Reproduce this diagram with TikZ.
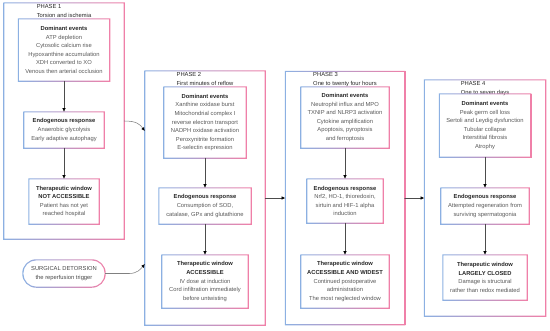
\documentclass[tikz,border=0pt]{standalone}
\usepackage{fontspec}
\setmainfont{Liberation Sans}
\usepackage{xcolor}
\usepackage{tikz}
\usetikzlibrary{arrows.meta,positioning}

\definecolor{pblu}{RGB}{140,176,226}
\definecolor{prosa}{RGB}{240,128,168}
\definecolor{testo}{RGB}{88,88,88}
\definecolor{scuro}{RGB}{38,38,38}

% cornice sfumata attorno a un nodo
\newcommand{\cornice}[1]{%
  \shade[left color=pblu, right color=prosa, even odd rule]
    ([shift={(-.55pt,.55pt)}]#1.north west) rectangle ([shift={(.55pt,-.55pt)}]#1.south east)
    ([shift={(.55pt,-.55pt)}]#1.north west) rectangle ([shift={(-.55pt,.55pt)}]#1.south east);}
\newcommand{\tit}[1]{\textbf{\color{scuro}#1}}

\tikzset{
  scatola/.style={inner sep=0pt, align=center, text=testo, font=\fontsize{5.8}{8.6}\selectfont},
  fase/.style={inner sep=0pt},
  etichetta/.style={inner sep=0pt, align=left, text=scuro, font=\fontsize{5.8}{9}\selectfont},
  freccia/.style={-{Latex[length=3.6pt,width=3.4pt,color=black]}, draw=black!70, line width=.55pt},
  curva/.style={freccia, draw=black!50},
}

\begin{document}
\begin{tikzpicture}[x=1pt, y=-1pt, line cap=round, line join=round]
\useasboundingbox (0,0) rectangle (550,330);

% Fase 1
\node[fase, minimum width=120pt, minimum height=236pt] (fase1) at (64,121) {};
\node[etichetta, below=1.2pt of fase1.north] (lab1) {PHASE 1\\Torsion and ischemia};
\node[scatola, minimum width=91pt, minimum height=62pt] (dom1) at (64,50)
  {\tit{Dominant events}\\ATP depletion\\Cytosolic calcium rise\\Hypoxanthine accumulation\\XDH converted to XO\\Venous then arterial occlusion};
\node[scatola, minimum width=80pt, minimum height=36pt] (endo1) at (64,130)
  {\tit{Endogenous response}\\Anaerobic glycolysis\\Early adaptive autophagy};
\node[scatola, minimum width=70pt, minimum height=45pt] (ter1) at (64,201.5)
  {\tit{Therapeutic window}\\\tit{NOT ACCESSIBLE}\\Patient has not yet\\reached hospital};

% Detorsione
\node[scatola, text=scuro!85, minimum width=82pt, minimum height=27pt] (chir) at (64,273.5)
  {SURGICAL DETORSION\\the reperfusion trigger};

% Fase 2
\node[fase, minimum width=120pt, minimum height=254pt] (fase2) at (205,198) {};
\node[etichetta, below=1.2pt of fase2.north] (lab2) {PHASE 2\\First minutes of reflow};
\node[scatola, minimum width=82pt, minimum height=71pt] (dom2) at (205,122.5)
  {\tit{Dominant events}\\Xanthine oxidase burst\\Mitochondrial complex I\\reverse electron transport\\NADPH oxidase activation\\Peroxynitrite formation\\E-selectin expression};
\node[scatola, minimum width=92pt, minimum height=36pt] (endo2) at (205,206)
  {\tit{Endogenous response}\\Consumption of SOD,\\catalase, GPx and glutathione};
\node[scatola, minimum width=86pt, minimum height=53pt] (ter2) at (205,281.5)
  {\tit{Therapeutic window}\\\tit{ACCESSIBLE}\\IV dose at induction\\Cord infiltration immediately\\before untwisting};

% Fase 3
\node[fase, minimum width=119pt, minimum height=253pt] (fase3) at (345,198) {};
\node[etichetta, below=1.2pt of fase3.north] (lab3) {PHASE 3\\One to twenty four hours};
\node[scatola, minimum width=88pt, minimum height=61pt] (dom3) at (345,117.5)
  {\tit{Dominant events}\\Neutrophil influx and MPO\\TXNIP and NLRP3 activation\\Cytokine amplification\\Apoptosis, pyroptosis\\and ferroptosis};
\node[scatola, minimum width=76pt, minimum height=44pt] (endo3) at (345,201)
  {\tit{Endogenous response}\\Nrf2, HO-1, thioredoxin,\\sirtuin and HIF-1 alpha\\induction};
\node[scatola, minimum width=88pt, minimum height=53pt] (ter3) at (345,281.5)
  {\tit{Therapeutic window}\\\tit{ACCESSIBLE AND WIDEST}\\Continued postoperative\\administration\\The most neglected window};

% Fase 4
\node[fase, minimum width=121pt, minimum height=236pt] (fase4) at (485,198) {};
\node[etichetta, below=1.2pt of fase4.north] (lab4) {PHASE 4\\One to seven days};
\node[scatola, minimum width=91pt, minimum height=63pt] (dom4) at (485,125.5)
  {\tit{Dominant events}\\Peak germ cell loss\\Sertoli and Leydig dysfunction\\Tubular collapse\\Interstitial fibrosis\\Atrophy};
\node[scatola, minimum width=88pt, minimum height=36pt] (endo4) at (485,206)
  {\tit{Endogenous response}\\Attempted regeneration from\\surviving spermatogonia};
\node[scatola, minimum width=84pt, minimum height=45pt] (ter4) at (485,277.5)
  {\tit{Therapeutic window}\\\tit{LARGELY CLOSED}\\Damage is structural\\rather than redox mediated};

% Cornici
\foreach \n in {fase1,dom1,endo1,ter1,fase2,dom2,endo2,ter2,fase3,dom3,endo3,ter3,fase4,dom4,endo4,ter4}
  \cornice{\n};
\shade[left color=pblu, right color=prosa, even odd rule]
  ([shift={(-.55pt,.55pt)}]chir.north west) [rounded corners=14pt] rectangle ([shift={(.55pt,-.55pt)}]chir.south east)
  ([shift={(.55pt,-.55pt)}]chir.north west) [rounded corners=12.9pt] rectangle ([shift={(-.55pt,.55pt)}]chir.south east);

% Frecce interne
\foreach \i in {1,2,3,4} {
  \draw[freccia] (dom\i) -- (endo\i);
  \draw[freccia] (endo\i) -- (ter\i);
}

% Frecce tra le fasi
\coordinate (in2a) at ([yshift=67pt]fase2.west);
\coordinate (in2b) at ([yshift=-66pt]fase2.west);
\draw[curva] (fase1.east) .. controls +(12,0) and +(-5,-7) .. (in2a);
\draw[curva] (chir.east) -- ++(24,0) .. controls +(8,0) and +(-4,5) .. (in2b);
\draw[freccia] (fase2.east) -- (fase3.west);
\draw[freccia] (fase3.east) -- (fase4.west);

\end{tikzpicture}
\end{document}
